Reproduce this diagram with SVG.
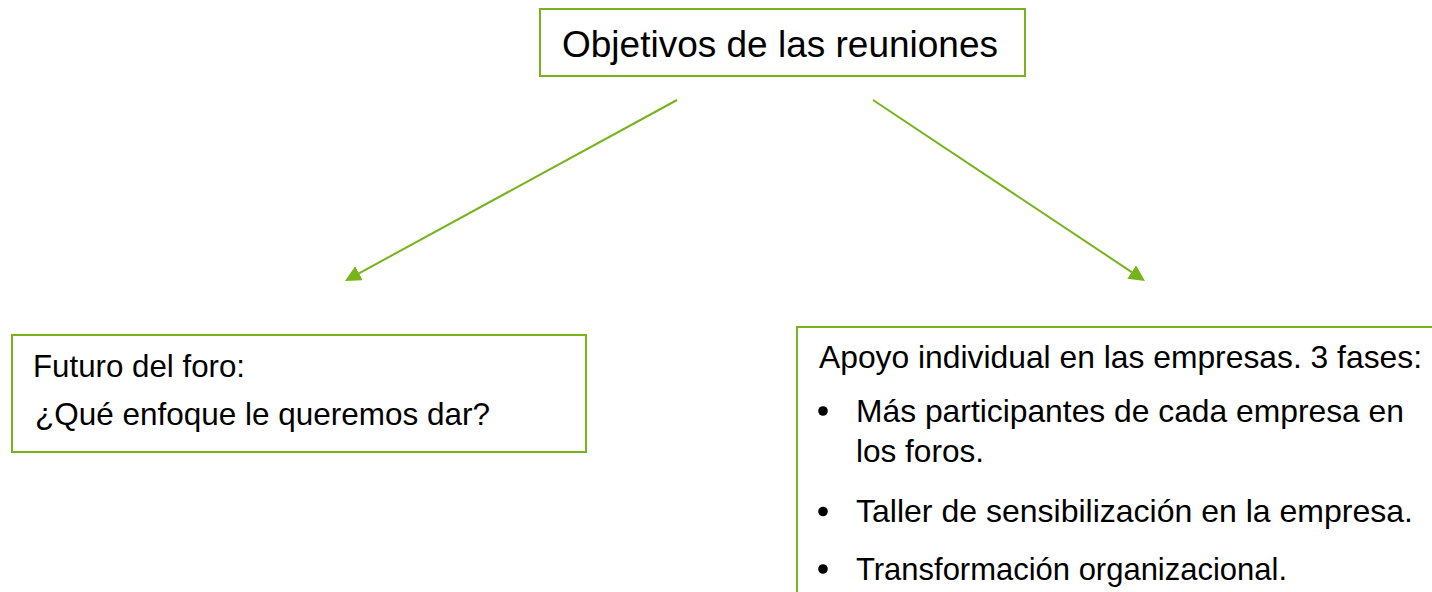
<svg xmlns="http://www.w3.org/2000/svg" width="1432" height="592" viewBox="0 0 1432 592">
  <style>
    .box { fill: #ffffff; stroke: #77B31B; stroke-width: 2; }
    .conn { stroke: #77B31B; stroke-width: 2; fill: none; }
    .t { font-family: "Liberation Sans", Arial, sans-serif; fill: #000000; }
    .body { font-size: 30.5px; }
    .title { font-size: 37px; }
  </style>
  <defs>
    <marker id="arrow" markerUnits="userSpaceOnUse" markerWidth="16" markerHeight="16" refX="0" refY="8" orient="auto" viewBox="0 0 16 16">
      <path d="M0,0 L16,8 L0,16 z" fill="#77B31B"/>
    </marker>
  </defs>
  <rect width="1432" height="592" fill="#ffffff"/>

  <g id="connectors">
    <line class="conn" x1="677" y1="100" x2="359" y2="273.3" marker-end="url(#arrow)"/>
    <line class="conn" x1="873" y1="100" x2="1131.7" y2="272.1" marker-end="url(#arrow)"/>
  </g>

  <g id="node-objetivos">
    <rect class="box" x="540" y="9" width="485" height="67"/>
    <text class="t title" x="562" y="57" textLength="436" lengthAdjust="spacingAndGlyphs">Objetivos de las reuniones</text>
  </g>

  <g id="node-futuro">
    <rect class="box" x="12" y="335" width="574" height="117"/>
    <text class="t body" x="33" y="377" textLength="212" lengthAdjust="spacingAndGlyphs">Futuro del foro:</text>
    <text class="t body" x="35" y="425" textLength="455" lengthAdjust="spacingAndGlyphs">¿Qué enfoque le queremos dar?</text>
  </g>

  <g id="node-apoyo">
    <rect class="box" x="797" y="327" width="660" height="300"/>
    <text class="t body" x="819" y="368" textLength="603" lengthAdjust="spacingAndGlyphs">Apoyo individual en las empresas. 3 fases:</text>
    <circle cx="823" cy="411" r="4.8" fill="#000000"/>
    <text class="t body" x="856" y="422" textLength="548" lengthAdjust="spacingAndGlyphs">Más participantes de cada empresa en</text>
    <text class="t body" x="856" y="462" textLength="128" lengthAdjust="spacingAndGlyphs">los foros.</text>
    <circle cx="823" cy="511.5" r="4.8" fill="#000000"/>
    <text class="t body" x="856" y="522" textLength="557" lengthAdjust="spacingAndGlyphs">Taller de sensibilización en la empresa.</text>
    <circle cx="823" cy="569" r="4.8" fill="#000000"/>
    <text class="t body" x="856" y="580" textLength="431" lengthAdjust="spacingAndGlyphs">Transformación organizacional.</text>
  </g>
</svg>
